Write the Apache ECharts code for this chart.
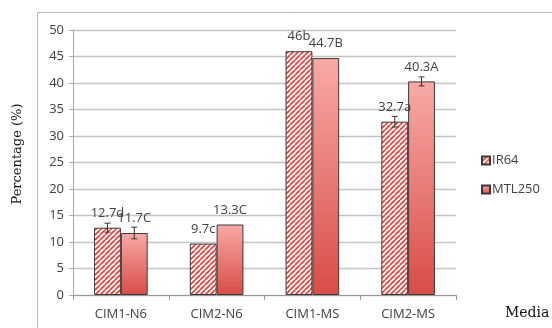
<!DOCTYPE html>
<html>
<head>
<meta charset="utf-8">
<script src="https://cdn.jsdelivr.net/npm/echarts@6/dist/echarts.min.js"></script>
<style>
html,body{margin:0;padding:0;background:#fff;}
#chart{width:552px;height:328px;}
</style>
</head>
<body>
<div id="chart"></div>
<script>
var categories = ['CIM1-N6', 'CIM2-N6', 'CIM1-MS', 'CIM2-MS'];
var ir64Values = [12.7, 9.7, 46, 32.7];
var mtl250Values = [11.7, 13.3, 44.7, 40.3];
var ir64Errors = [0.85, 0, 0, 1.0];
var mtl250Errors = [1.1, 0, 0, 0.85];
var ir64Letters = ['d', 'c', 'b', 'a'];
var mtl250Letters = ['C', 'C', 'B', 'A'];
var yTicks = [0, 5, 10, 15, 20, 25, 30, 35, 40, 45, 50];

function hatch() {
  var s = 5;
  var c = document.createElement('canvas');
  c.width = s; c.height = s;
  var ctx = c.getContext('2d');
  ctx.fillStyle = '#ffffff';
  ctx.fillRect(0, 0, s, s);
  ctx.strokeStyle = '#ec3d36';
  ctx.lineWidth = 1.7;
  for (var k = -1; k <= 2; k++) {
    var cc = k * s;
    ctx.beginPath();
    ctx.moveTo(cc + s, 0);
    ctx.lineTo(cc, s);
    ctx.stroke();
  }
  return c;
}

var catGap = 0.44;
function errSeries(values, errors, sideSign) {
  var data = values.map(function (v, i) { return [i, v, errors[i]]; });
  return {
    type: 'custom',
    z: 5,
    silent: true,
    data: data,
    renderItem: function (params, api) {
      var i = api.value(0), v = api.value(1), e = api.value(2);
      if (!e) return null;
      var band = api.size([1, 0])[0];
      var bw = band * (1 - catGap) / 2;
      var c = api.coord([i, v]);
      var x = c[0] + sideSign * bw / 2;
      var top = api.coord([i, v + e])[1];
      var bot = api.coord([i, v - e])[1];
      var cap = 3;
      var st = { stroke: '#333', lineWidth: 1 };
      return {
        type: 'group',
        children: [
          { type: 'line', shape: { x1: x, y1: top, x2: x, y2: bot }, style: st },
          { type: 'line', shape: { x1: x - cap, y1: top, x2: x + cap, y2: top }, style: st },
          { type: 'line', shape: { x1: x - cap, y1: bot, x2: x + cap, y2: bot }, style: st }
        ]
      };
    }
  };
}

var chart = echarts.init(document.getElementById('chart'), null, { renderer: 'canvas' });
var sansFont = '"Open Sans", "Liberation Sans", sans-serif';
var fs = 13;

chart.setOption({
  animation: false,
  graphic: [
    { type: 'rect', left: 35, top: 10, shape: { x: 0, y: 0, width: 700, height: 500 }, style: { fill: 'none', stroke: '#b8b8b8', lineWidth: 1 }, z: -1 },
    { type: 'text', x: 505, y: 306, style: { text: 'Media', font: '14px "DejaVu Serif", serif', fill: '#111' } },
    { type: 'text', x: 18, y: 154, rotation: Math.PI / 2, style: { text: 'Percentage (%)', font: '13px "DejaVu Serif", serif', fill: '#111', textAlign: 'center', textVerticalAlign: 'middle' } }
  ],
  grid: { left: 73, right: 96, top: 30, bottom: 33 },
  legend: {
    orient: 'vertical',
    left: 476,
    top: 149,
    itemWidth: 8,
    itemHeight: 8,
    itemGap: 16,
    icon: 'rect',
    textStyle: { fontFamily: sansFont, fontSize: fs, color: '#404040', padding: [0, 0, 0, -3] },
    data: ['IR64', 'MTL250']
  },
  xAxis: {
    type: 'category',
    data: categories,
    axisLine: { lineStyle: { color: '#999', width: 1 } },
    axisTick: { show: true, length: 5, lineStyle: { color: '#999' } },
    axisLabel: { fontFamily: sansFont, fontSize: fs, color: '#404040', margin: 13 }
  },
  yAxis: {
    type: 'value',
    min: yTicks[0],
    max: yTicks[yTicks.length - 1],
    interval: yTicks[1] - yTicks[0],
    axisLine: { show: true, lineStyle: { color: '#aaa', width: 1 } },
    axisTick: { show: true, length: 4, lineStyle: { color: '#aaa' } },
    axisLabel: { fontFamily: sansFont, fontSize: fs, color: '#404040', margin: 9 },
    splitLine: { lineStyle: { color: '#c4c4c4', width: 1.3 } }
  },
  series: [
    {
      name: 'IR64',
      type: 'bar',
      data: ir64Values,
      barGap: '0%',
      barCategoryGap: '44%',
      itemStyle: { color: { image: hatch(), repeat: 'repeat' }, borderColor: '#3a3a3a', borderWidth: 1 },
      label: {
        show: true, position: 'top', distance: 8,
        fontFamily: sansFont, fontSize: fs, color: '#404040',
        formatter: function (p) { return p.value + ir64Letters[p.dataIndex]; }
      }
    },
    {
      name: 'MTL250',
      type: 'bar',
      data: mtl250Values,
      barGap: '0%',
      barCategoryGap: '44%',
      itemStyle: {
        color: { type: 'linear', x: 0, y: 0, x2: 0, y2: 1, colorStops: [{ offset: 0, color: '#f8aaa7' }, { offset: 1, color: '#d94c46' }] },
        borderColor: '#3a3a3a', borderWidth: 1
      },
      label: {
        show: true, position: 'top', distance: 8,
        fontFamily: sansFont, fontSize: fs, color: '#404040',
        formatter: function (p) { return p.value + mtl250Letters[p.dataIndex]; }
      }
    },
    errSeries(ir64Values, ir64Errors, -1),
    errSeries(mtl250Values, mtl250Errors, 1)
  ]
});
</script>
</body>
</html>
